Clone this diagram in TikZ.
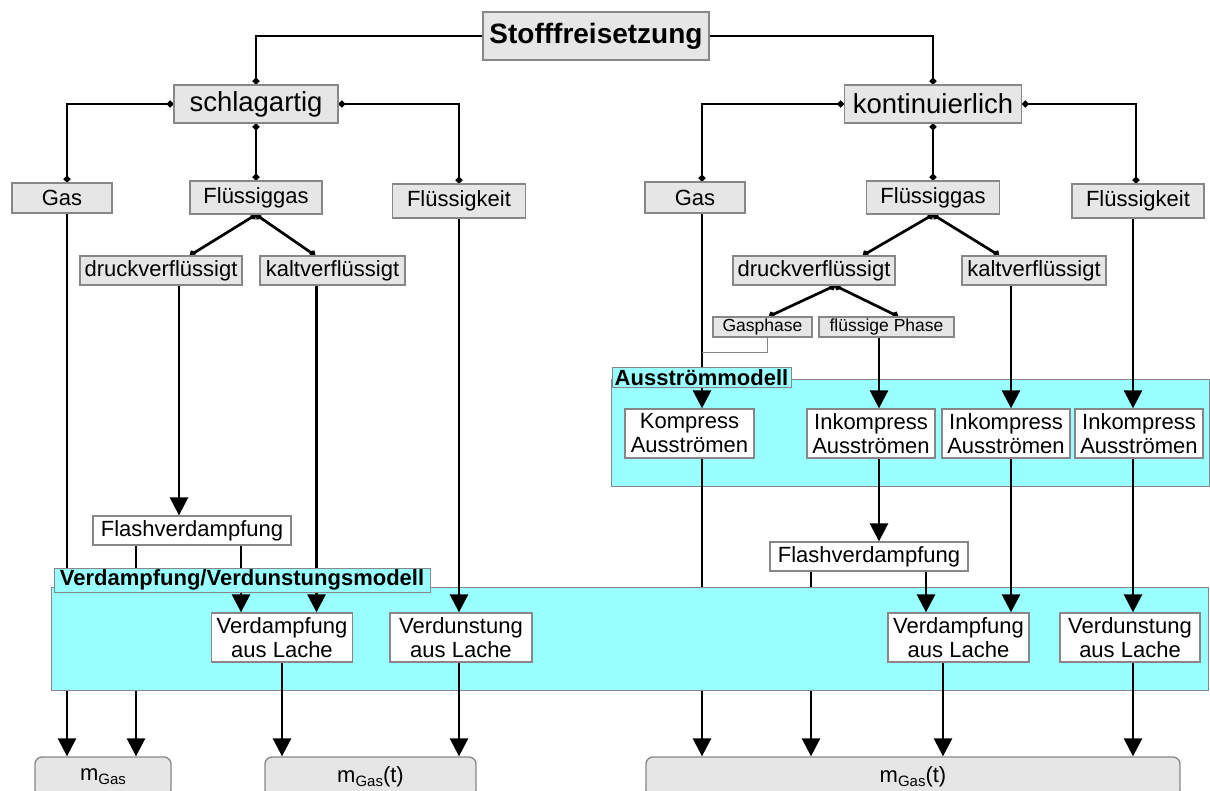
\documentclass[tikz,border=0pt]{standalone}
\usepackage{fontspec}
\setmainfont{Liberation Sans}[Ligatures=NoCommon]
\usetikzlibrary{arrows.meta}
\pgfdeclarelayer{bandA}
\pgfdeclarelayer{hid}
\pgfdeclarelayer{bandV}
\pgfdeclarelayer{lines}
\pgfsetlayers{bandA,hid,bandV,lines,main}
\definecolor{cyanband}{RGB}{153,255,255}
\definecolor{boxgray}{RGB}{230,230,230}
\definecolor{edgegray}{RGB}{135,135,135}
\tikzset{
  wh/.style 2 args={minimum width=#1pt, minimum height=#2pt},
  box/.style={draw=edgegray, line width=1.3pt, inner sep=0pt, align=center,
    font=\fontsize{22}{24}\selectfont},
  gbox/.style={box, fill=boxgray},
  wbox/.style={box, fill=white},
  mbox/.style={box, fill=boxgray, rounded corners=7pt},
  bandbox/.style={draw=edgegray, line width=1pt, fill=cyanband, inner sep=0pt},
  lab/.style={draw=edgegray, line width=1pt, fill=cyanband, inner sep=0pt,
    font=\bfseries\fontsize{22}{24}\selectfont},
  conn/.style={line width=2.7pt, black},
  arr/.style={conn, -{Triangle[length=18pt,width=18pt]}},
  tree/.style={conn, {Circle[length=6.5pt]}-{Circle[length=6.5pt]}},
  treeE/.style={conn, -{Circle[length=6.5pt]}},
  thinl/.style={line width=1pt, edgegray},
}
\newcommand{\mgas}{m\raisebox{-0.35ex}{\fontsize{15}{15}\selectfont Gas}}
\begin{document}
\begin{tikzpicture}[x=1pt, y=-1pt]
\path[use as bounding box] (0,0) rectangle (1210,791);

% top levels
\node[gbox, wh={226}{48}, font=\bfseries\fontsize{28}{30}\selectfont] (stoff) at (596,36) {Stofffreisetzung};
\node[gbox, wh={164}{38}, font=\fontsize{27.5}{30}\selectfont] (schlag) at (256,104) {schlagartig};
\node[gbox, wh={177}{38}, font=\fontsize{27.5}{30}\selectfont] (kont) at (933,104) {kontinuierlich};

% left branch
\node[gbox, wh={100}{30}] (gasL) at (62,198) {Gas};
\node[gbox, wh={132}{33}] (flgL) at (256,197.5) {Flüssiggas};
\node[gbox, wh={133}{34}] (fkL) at (459,201) {Flüssigkeit};
\node[gbox, wh={162}{29}] (druckL) at (161,270.5) {druckverflüssigt};
\node[gbox, wh={145}{29}] (kaltL) at (332.5,270.5) {kaltverflüssigt};
\node[wbox, wh={198}{29}] (flashL) at (192,530.5) {Flashverdampfung};

% right branch
\node[gbox, wh={100}{31}] (gasR) at (695,197.5) {Gas};
\node[gbox, wh={133}{33}] (flgR) at (933,197.5) {Flüssiggas};
\node[gbox, wh={132}{34}] (fkR) at (1138,201) {Flüssigkeit};
\node[gbox, wh={162}{29}] (druckR) at (814,270.5) {druckverflüssigt};
\node[gbox, wh={144}{29}] (kaltR) at (1034,270.5) {kaltverflüssigt};
\node[gbox, wh={99}{20}, font=\fontsize{17.5}{19}\selectfont] (gph) at (762.5,327) {Gasphase};
\node[gbox, wh={135}{20}, font=\fontsize{17.5}{19}\selectfont] (fph) at (886.5,327) {flüssige Phase};
\coordinate (gj) at (702,353);

% Ausstroemmodell
\begin{pgfonlayer}{bandA}
\node[bandbox, wh={598}{106}] (aband) at (910,433) {};
\end{pgfonlayer}
\node[lab, wh={179}{20}] (alabel) at (701.5,378) {Ausströmmodell};
\node[wbox, wh={129}{49}] (komp) at (689.5,433.5) {Kompress\\Ausströmen};
\node[wbox, wh={128}{49}] (ink1) at (871,433.5) {Inkompress\\Ausströmen};
\node[wbox, wh={128}{49}] (ink2) at (1006,433.5) {Inkompress\\Ausströmen};
\node[wbox, wh={128}{49}] (ink3) at (1139,433.5) {Inkompress\\Ausströmen};
\node[wbox, wh={198}{29}] (flashR) at (869,556.5) {Flashverdampfung};

% Verdampfung/Verdunstungsmodell
\begin{pgfonlayer}{bandV}
\node[bandbox, wh={1157}{103}] (vband) at (629.5,638.5) {};
\end{pgfonlayer}
\node[lab, wh={376}{24}] (vlabel) at (242,580) {Verdampfung/Verdunstungsmodell};
\node[wbox, wh={141}{49}] (vdL) at (282,637.5) {Verdampfung\\aus Lache};
\node[wbox, wh={142}{49}] (vuL) at (461,637.5) {Verdunstung\\aus Lache};
\node[wbox, wh={141}{49}] (vdR) at (958.5,637.5) {Verdampfung\\aus Lache};
\node[wbox, wh={140}{49}] (vuR) at (1130,637.5) {Verdunstung\\aus Lache};

% results
\node[mbox, wh={136}{40}] (mgL) at (103,777) {\mgas};
\node[mbox, wh={211}{40}] (mgtL) at (370.5,777) {\mgas(t)};
\node[mbox, wh={534}{40}] (mgtR) at (913,777) {\mgas(t)};

% connectors hidden by the lower band
\begin{pgfonlayer}{hid}
\draw[arr] ([xshift=5pt]gasL.south) -- ([xshift=5pt]gasL.south |- mgL.north);
\draw[arr] ([xshift=-56pt]flashL.south) -- ([xshift=-56pt]flashL.south |- mgL.north);
\draw[arr] ([xshift=12.5pt]komp.south) -- ([xshift=12.5pt]komp.south |- mgtR.north);
\draw[arr] ([xshift=-58pt]flashR.south) -- ([xshift=-58pt]flashR.south |- mgtR.north);
\end{pgfonlayer}

\begin{pgfonlayer}{lines}
% tree
\draw[treeE] (stoff.west) -| (schlag.north);
\draw[treeE] (stoff.east) -| (kont.north);
\draw[tree] (schlag.west) -| ([xshift=5pt]gasL.north);
\draw[tree] (schlag.east) -| (fkL.north);
\draw[tree] (schlag.south) -- (flgL.north);
\draw[tree] (flgL.south) -- ([xshift=29pt]druckL.north);
\draw[tree] (flgL.south) -- ([xshift=-17.5pt]kaltL.north);
\draw[tree] (kont.west) -| ([xshift=7pt]gasR.north);
\draw[tree] (kont.east) -| ([xshift=-2pt]fkR.north);
\draw[tree] (kont.south) -- (flgR.north);
\draw[tree] (flgR.south) -- ([xshift=49pt]druckR.north);
\draw[tree] (flgR.south) -- ([xshift=-35pt]kaltR.north);
\draw[tree] ([xshift=21pt]druckR.south) -- ([xshift=6.5pt]gph.north);
\draw[tree] ([xshift=21pt]druckR.south) -- ([xshift=11.5pt]fph.north);
% arrows left
\draw[arr] ([xshift=18pt]druckL.south) -- ([xshift=18pt]druckL.south |- flashL.north);
\draw[arr] ([xshift=-16pt]kaltL.south) -- ([xshift=-16pt]kaltL.south |- vdL.north);
\draw[arr] (fkL.south) -- (fkL.south |- vuL.north);
\draw[arr] ([xshift=49pt]flashL.south) -- ([xshift=49pt]flashL.south |- vdL.north);
\draw[arr] (vdL.south) -- (vdL.south |- mgtL.north);
\draw[arr] ([xshift=-2pt]vuL.south) -- ([xshift=-2pt]vuL.south |- mgtL.north);
% arrows right
\draw[arr] ([xshift=7pt]gasR.south) -- ([xshift=7pt]gasR.south |- komp.north);
\draw[thinl] ([xshift=4.5pt]gph.south) |- (gj);
\draw[arr] ([xshift=-7.5pt]fph.south) -- ([xshift=-7.5pt]fph.south |- ink1.north);
\draw[arr] ([xshift=-23pt]kaltR.south) -- ([xshift=-23pt]kaltR.south |- ink2.north);
\draw[arr] ([xshift=-5pt]fkR.south) -- ([xshift=-5pt]fkR.south |- ink3.north);
\draw[arr] ([xshift=8pt]ink1.south) -- ([xshift=8pt]ink1.south |- flashR.north);
\draw[arr] ([xshift=57pt]flashR.south) -- ([xshift=57pt]flashR.south |- vdR.north);
\draw[arr] ([xshift=5pt]ink2.south) -- ([xshift=5pt]ink2.south |- vdR.north);
\draw[arr] ([xshift=-6pt]ink3.south) -- ([xshift=-6pt]ink3.south |- vuR.north);
\draw[arr] ([xshift=-15.5pt]vdR.south) -- ([xshift=-15.5pt]vdR.south |- mgtR.north);
\draw[arr] ([xshift=3pt]vuR.south) -- ([xshift=3pt]vuR.south |- mgtR.north);
\end{pgfonlayer}
\end{tikzpicture}
\end{document}
